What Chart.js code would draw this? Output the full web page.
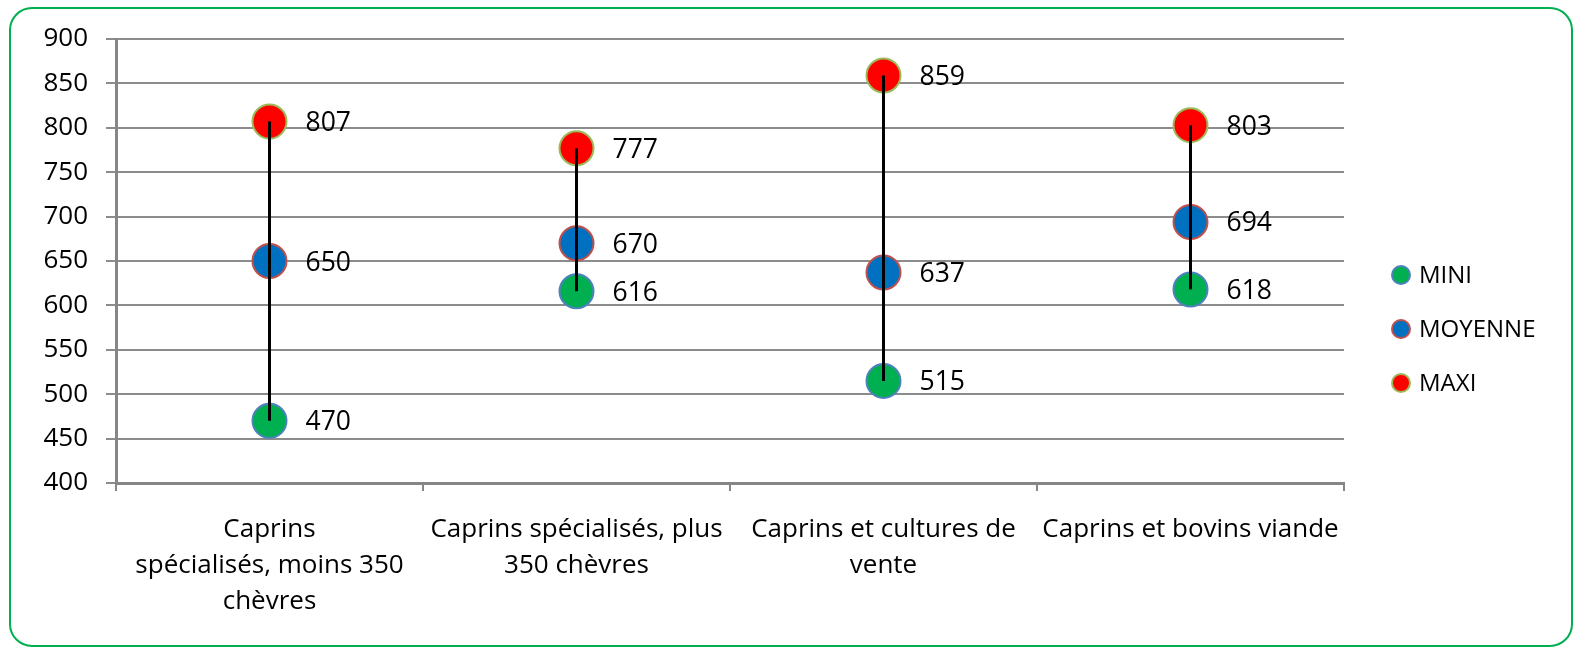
<!DOCTYPE html>
<html>
<head>
<meta charset="utf-8">
<script src="https://cdn.jsdelivr.net/npm/chart.js@4.4.0/dist/chart.umd.min.js"></script>
<style>
html,body{margin:0;padding:0;background:#fff;}
#wrap{position:relative;width:1573px;height:648px;}
canvas{display:block;}
</style>
</head>
<body>
<div id="wrap"><canvas id="c" width="1573" height="648"></canvas></div>
<script>
const categories = [
  ["Caprins", "spécialisés, moins 350", "chèvres"],
  ["Caprins spécialisés, plus", "350 chèvres"],
  ["Caprins et cultures de", "vente"],
  ["Caprins et bovins viande"]
];
const seriesNames = ["MINI", "MOYENNE", "MAXI"];
const miniValues = [470, 616, 515, 618];
const moyenneValues = [650, 670, 637, 694];
const maxiValues = [807, 777, 859, 803];
const yTicks = [400, 450, 500, 550, 600, 650, 700, 750, 800, 850, 900];

const FONT = "'Open Sans', 'DejaVu Sans', sans-serif";

const frame = {
  id: 'frame',
  beforeDraw(chart) {
    const ctx = chart.ctx;
    ctx.save();
    ctx.fillStyle = '#ffffff';
    ctx.fillRect(0, 0, chart.width, chart.height);
    ctx.strokeStyle = '#00B050';
    ctx.lineWidth = 2;
    ctx.beginPath();
    ctx.roundRect(10, 8, 1562, 638, 22);
    ctx.stroke();
    ctx.restore();
  }
};

const hiLo = {
  id: 'hiLo',
  afterDatasetsDraw(chart) {
    const ctx = chart.ctx;
    const xs = chart.scales.x, ys = chart.scales.y;
    const ds = chart.data.datasets;
    ctx.save();
    ctx.strokeStyle = '#000';
    ctx.lineWidth = 3;
    for (let i = 0; i < categories.length; i++) {
      const vals = ds.map(d => d.data[i]);
      const lo = Math.min(...vals), hi = Math.max(...vals);
      const x = xs.getPixelForValue(i);
      ctx.beginPath();
      ctx.moveTo(x, ys.getPixelForValue(lo));
      ctx.lineTo(x, ys.getPixelForValue(hi));
      ctx.stroke();
    }
    ctx.fillStyle = '#000';
    ctx.font = "26.5px " + FONT;
    ctx.textAlign = 'left';
    ctx.textBaseline = 'middle';
    ds.forEach(d => {
      d.data.forEach((v, i) => {
        const x = xs.getPixelForValue(i);
        const y = ys.getPixelForValue(v);
        ctx.fillText(String(v), x + 36, y + 2);
      });
    });
    ctx.restore();
  },
  afterDraw(chart) {
    const ctx = chart.ctx;
    const ds = chart.data.datasets;
    ctx.save();
    ctx.font = "24px " + FONT;
    ctx.textAlign = 'left';
    ctx.textBaseline = 'middle';
    const y0 = 275, step = 54;
    ds.forEach((d, k) => {
      const y = y0 + k * step;
      ctx.beginPath();
      ctx.arc(1401, y, 9, 0, Math.PI * 2);
      ctx.fillStyle = d.pointBackgroundColor;
      ctx.fill();
      ctx.lineWidth = 2;
      ctx.strokeStyle = d.pointBorderColor;
      ctx.stroke();
      ctx.fillStyle = '#000';
      ctx.fillText(d.label, 1419, y + 1);
    });
    ctx.restore();
  }
};

const mk = (label, data, fill, border) => ({
  label, data,
  showLine: false,
  pointRadius: 17,
  pointHoverRadius: 17,
  pointBorderWidth: 2,
  pointBackgroundColor: fill,
  pointBorderColor: border,
  backgroundColor: fill,
  borderColor: border
});

new Chart(document.getElementById('c'), {
  type: 'line',
  data: {
    labels: categories,
    datasets: [
      mk(seriesNames[0], miniValues, '#00B050', '#4F81BD'),
      mk(seriesNames[1], moyenneValues, '#0070C0', '#C0504D'),
      mk(seriesNames[2], maxiValues, '#FF0000', '#9BBB59')
    ]
  },
  options: {
    responsive: false,
    animation: false,
    events: [],
    layout: { padding: { left: 0, right: 229, top: 39, bottom: 0 } },
    plugins: { legend: { display: false }, tooltip: { enabled: false } },
    scales: {
      x: {
        type: 'category',
        offset: true,
        grid: { offset: true, drawOnChartArea: false, drawTicks: true, tickLength: 8, color: '#868686', lineWidth: 2 },
        border: { color: '#868686', width: 3 },
        ticks: { color: '#000', padding: 21, maxRotation: 0, autoSkip: false,
                 font: { family: FONT, size: 26, lineHeight: 1.38 } },
        afterFit(scale) { scale.height = 165; }
      },
      y: {
        min: 400, max: 900,
        afterBuildTicks(scale) { scale.ticks = yTicks.map(v => ({ value: v })); },
        grid: { color: '#8c8c8c', lineWidth: 2, tickLength: 10, drawTicks: true },
        border: { color: '#868686', width: 3 },
        ticks: { color: '#000', padding: 18, font: { family: FONT, size: 26 } },
        afterFit(scale) { scale.width = 116; }
      }
    }
  },
  plugins: [frame, hiLo]
});
</script>
</body>
</html>
